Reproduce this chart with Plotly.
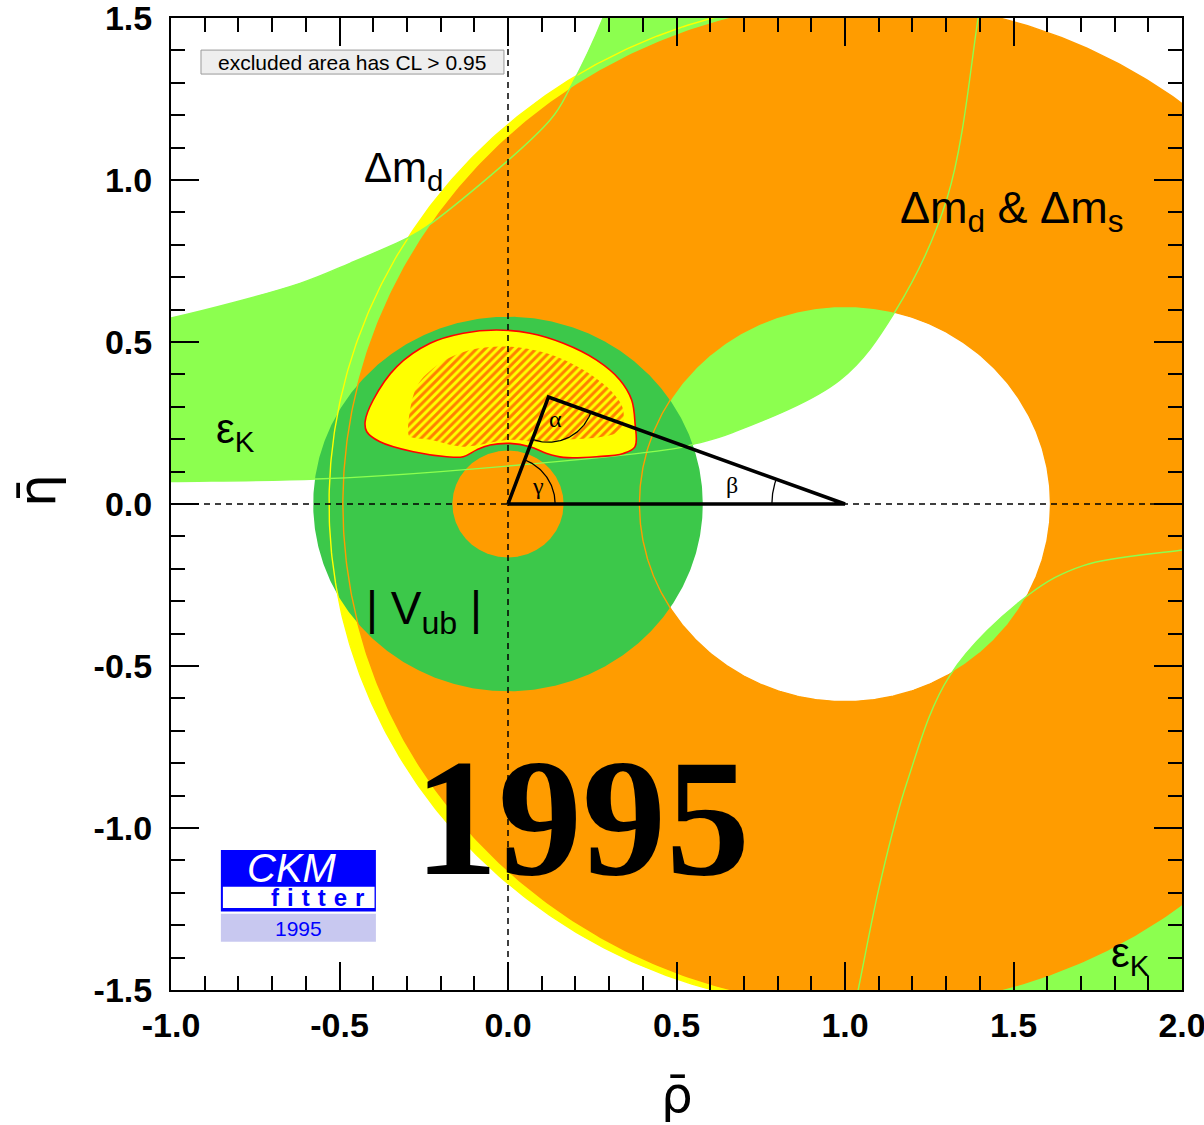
import numpy as np
import plotly.graph_objects as go

# ---------------- values (rho-bar / eta-bar units) ----------------
# Δm_d (yellow) ring, Δm_d & Δm_s (orange) ring, common excluded disc around (1,0)
dmd_center, dmd_radius = 1.027, 1.558
dms_center, dms_radius = 1.062, 1.552
hole_center, hole_radius = 1.0, 0.61
# |Vub| ring around the origin
vub_r_in, vub_r_out = 0.165, 0.578

# εK band, upper branch: lower edge and upper edge (points beyond the frame close the band)
ek_up_lo_rho = [-1.15, -1.00, -0.57, -0.20, 0.49, 0.56, 0.66, 0.985, 1.148, 1.303, 1.395, 1.44, 1.60]
ek_up_lo_eta = [0.066, 0.069, 0.077, 0.100, 0.170, 0.187, 0.218, 0.383, 0.593, 0.944, 1.50, 1.85, 2.20]
ek_up_hi_rho = [-1.15, -1.00, -0.617, -0.469, -0.301, -0.241, 0.125, 0.184, 0.282, 0.33, 0.40]
ek_up_hi_eta = [0.545, 0.574, 0.681, 0.743, 0.820, 0.856, 1.185, 1.284, 1.50, 1.65, 1.95]
ek_up_close_rho = [0.90, -1.40]
ek_up_close_eta = [2.40, 0.30]
# εK band, lower branch: inner edge (band extends outward beyond the frame)
ek_lo_rho = [2.15, 2.00, 1.707, 1.544, 1.312, 1.183, 1.104, 1.04, 0.99]
ek_lo_eta = [-0.121, -0.142, -0.19, -0.281, -0.528, -0.862, -1.171, -1.495, -1.75]
ek_lo_close_rho = [1.20, 2.40, 2.40]
ek_lo_close_eta = [-2.00, -2.00, -0.10]

# combined fit: outer (CL contour) and hatched inner region
fit_rho = [-0.424, -0.400, -0.330, -0.231, -0.133, -0.034, 0.065, 0.164, 0.263, 0.332, 0.367, 0.377,
           0.377, 0.342, 0.263, 0.164, 0.115, 0.065, 0.006, -0.053, -0.093, -0.133, -0.182, -0.281,
           -0.380, -0.419, -0.424]
fit_eta = [0.254, 0.321, 0.424, 0.496, 0.527, 0.537, 0.527, 0.496, 0.444, 0.383, 0.321, 0.249,
           0.177, 0.156, 0.146, 0.144, 0.156, 0.177, 0.187, 0.182, 0.167, 0.146, 0.146, 0.161,
           0.192, 0.223, 0.254]
hatch_rho = [-0.296, -0.271, -0.202, -0.113, -0.004, 0.115, 0.223, 0.312, 0.342, 0.332, 0.283, 0.164,
             0.085, 0.006, -0.133, -0.231, -0.291, -0.296]
hatch_eta = [0.218, 0.362, 0.434, 0.475, 0.486, 0.465, 0.414, 0.342, 0.290, 0.228, 0.208, 0.198,
             0.192, 0.198, 0.177, 0.198, 0.208, 0.218]

# unitarity triangle
tri_rho = [0.0, 0.12, 1.0, 0.0]
tri_eta = [0.0, 0.33, 0.0, 0.0]

# axes
x_ticks = [-1.0, -0.5, 0.0, 0.5, 1.0, 1.5, 2.0]
x_ticktext = ["-1.0", "-0.5", "0.0", "0.5", "1.0", "1.5", "2.0"]
y_ticks = [-1.5, -1.0, -0.5, 0.0, 0.5, 1.0, 1.5]
y_ticktext = ["-1.5", "-1.0", "-0.5", "0.0", "0.5", "1.0", "1.5"]

# colours
C_YELLOW = "#ffff00"
C_LGREEN = "#8cff4f"
C_ORANGE = "#ff9c00"
C_DGREEN = "#3cc84a"
C_RED = "#ff0000"

# ---------------- helpers ----------------
t = np.linspace(0, 2 * np.pi, 721)


def circle(cx, cy, r):
    return cx + r * np.cos(t), cy + r * np.sin(t)


def ring(cx, r_out, hx, r_in):
    xo, yo = circle(cx, 0.0, r_out)
    xi, yi = circle(hx, 0.0, r_in)
    return np.concatenate([xo, xi[::-1]]), np.concatenate([yo, yi[::-1]])


fig = go.Figure()


def add_fill(x, y, color, shape="linear"):
    fig.add_trace(go.Scatter(x=list(x), y=list(y), mode="lines", fill="toself", fillcolor=color,
                             line=dict(width=0, color=color, shape=shape, smoothing=1.0),
                             hoverinfo="skip", showlegend=False))


def add_line(x, y, color, width=1.4, shape="linear", dash=None):
    fig.add_trace(go.Scatter(x=list(x), y=list(y), mode="lines", connectgaps=False,
                             line=dict(width=width, color=color, shape=shape, smoothing=1.0, dash=dash),
                             hoverinfo="skip", showlegend=False))


# 1. Δm_d ring (yellow)
add_fill(*ring(dmd_center, dmd_radius, hole_center, hole_radius), C_YELLOW)

# 2. εK band (light green)
add_fill(ek_up_lo_rho + ek_up_close_rho[:1] + ek_up_hi_rho[::-1] + ek_up_close_rho[1:],
         ek_up_lo_eta + ek_up_close_eta[:1] + ek_up_hi_eta[::-1] + ek_up_close_eta[1:],
         C_LGREEN, shape="spline")
add_fill(ek_lo_rho + ek_lo_close_rho, ek_lo_eta + ek_lo_close_eta, C_LGREEN, shape="spline")

# 3. Δm_d & Δm_s ring (orange)
add_fill(*ring(dms_center, dms_radius, hole_center, hole_radius), C_ORANGE)

# 4. |Vub| ring (dark green)
add_fill(*ring(0.0, vub_r_out, 0.0, vub_r_in), C_DGREEN)

# 5. contour lines of the individual constraints
yx, yy = circle(dmd_center, 0.0, dmd_radius)
inside_orange = np.hypot(yx - dms_center, yy) < dms_radius + 0.004
yx = np.where(inside_orange, np.nan, yx)
yy = np.where(inside_orange, np.nan, yy)
add_line([None if np.isnan(v) else float(v) for v in yx],
         [None if np.isnan(v) else float(v) for v in yy], C_YELLOW)
add_line(*circle(dms_center, 0.0, dms_radius), C_ORANGE)
add_line(*circle(hole_center, 0.0, hole_radius), C_ORANGE)
add_line(ek_up_lo_rho, ek_up_lo_eta, C_LGREEN, shape="spline")
add_line(ek_up_hi_rho, ek_up_hi_eta, C_LGREEN, shape="spline")
add_line(ek_lo_rho, ek_lo_eta, C_LGREEN, shape="spline")

# 6. combined fit
fig.add_trace(go.Scatter(x=fit_rho, y=fit_eta, mode="lines", fill="toself", fillcolor=C_YELLOW,
                         line=dict(width=1.6, color=C_RED, shape="spline", smoothing=1.0),
                         hoverinfo="skip", showlegend=False))
fig.add_trace(go.Scatter(x=hatch_rho, y=hatch_eta, mode="lines", fill="toself",
                         fillpattern=dict(shape="/", fgcolor=C_RED, bgcolor=C_YELLOW, size=6, solidity=0.5),
                         line=dict(width=0, color=C_RED, shape="spline", smoothing=1.0),
                         hoverinfo="skip", showlegend=False))

# 7. dashed axes through the origin
add_line([0.0, 0.0], [-1.5, 1.5], "black", width=1.5, dash="6px,5px")
add_line([-1.0, 2.0], [0.0, 0.0], "black", width=1.5, dash="6px,5px")

# 8. triangle and angle arcs
add_line(tri_rho, tri_eta, "black", width=3.5)
ang_apex_0 = np.arctan2(tri_eta[0] - tri_eta[1], tri_rho[0] - tri_rho[1])
ang_apex_1 = np.arctan2(tri_eta[2] - tri_eta[1], tri_rho[2] - tri_rho[1])
ang_gamma = np.arctan2(tri_eta[1], tri_rho[1])
ang_beta = np.arctan2(tri_eta[1] - tri_eta[2], tri_rho[1] - tri_rho[2])
sy = 337.0 / 324.0


def arc(cx, cy, r, a0, a1):
    a = np.linspace(a0, a1, 60)
    return cx + r * np.cos(a), cy + r * sy * np.sin(a)


add_line(*arc(tri_rho[0], tri_eta[0], 0.14, 0.0, ang_gamma), "black", width=1.3)
add_line(*arc(tri_rho[1], tri_eta[1], 0.134, ang_apex_0, ang_apex_1), "black", width=1.3)
add_line(*arc(tri_rho[2], tri_eta[2], 0.217, np.pi, ang_beta), "black", width=1.3)

# ---------------- text ----------------
SANS = "Liberation Sans"
SERIF = "Liberation Serif"


def label(x, y, text, size, family=SANS, color="black", xanchor="left", **kw):
    fig.add_annotation(x=x, y=y, xref="x", yref="y", text=text, showarrow=False,
                       font=dict(family=family, size=size, color=color),
                       xanchor=xanchor, yanchor="middle", **kw)


label(-0.432, 1.03, "Δm<sub>d</sub>", 42)
label(1.158, 0.905, "Δm<sub>d</sub> &amp; Δm<sub>s</sub>", 45)
label(-0.872, 0.225, "ε<sub>K</sub>", 42)
label(1.783, -1.395, "ε<sub>K</sub>", 42)
label(-0.428, -0.333, "| V<sub>ub</sub> |", 46)
label(0.22, -0.965, "<b>1995</b>", 168, family=SERIF, xanchor="center")
label(0.142, 0.262, "α", 24, family=SERIF, xanchor="center")
label(0.088, 0.055, "γ", 24, family=SERIF, xanchor="center")
label(0.666, 0.058, "β", 24, family=SERIF, xanchor="center")

# legend box
fig.add_shape(type="rect", xref="x", yref="y", x0=-0.911, x1=-0.012, y0=1.327, y1=1.401,
              fillcolor="#eeeeee", line=dict(color="#9a9a9a", width=1), layer="above")
label(-0.4615, 1.364, "excluded area has CL > 0.95", 21, xanchor="center")

# CKMfitter logo
fig.add_shape(type="rect", xref="x", yref="y", x0=-0.852, x1=-0.392, y0=-1.258, y1=-1.068,
              fillcolor="#0000ff", line=dict(width=0), layer="above")
fig.add_shape(type="rect", xref="x", yref="y", x0=-0.846, x1=-0.396, y0=-1.247, y1=-1.181,
              fillcolor="white", line=dict(width=0), layer="above")
fig.add_shape(type="rect", xref="x", yref="y", x0=-0.852, x1=-0.392, y0=-1.351, y1=-1.265,
              fillcolor="#c8c8f0", line=dict(width=0), layer="above")
label(-0.64, -1.122, "<i>CKM</i>", 40, color="white", xanchor="center")
label(-0.565, -1.216, "<b>f\u2004i\u2004t\u2004t\u2004e\u2004r</b>", 24, color="#0000ff", xanchor="center")
label(-0.623, -1.309, "1995", 21, color="#0000ff", xanchor="center")

# axis titles
fig.add_annotation(x=0.5, y=-0.108, xref="paper", yref="paper", text="\u03c1\u0304", showarrow=False,
                   font=dict(family="DejaVu Sans", size=50, color="black"), xanchor="center", yanchor="middle")
fig.add_annotation(x=-0.132, y=0.514, xref="paper", yref="paper", text="\u03b7\u0304", showarrow=False,
                   textangle=-90, font=dict(family="DejaVu Sans", size=52, color="black"),
                   xanchor="center", yanchor="middle")

# ---------------- axes / layout ----------------
axis_common = dict(showgrid=False, zeroline=False, showline=True, linecolor="black", linewidth=2,
                   mirror="allticks", ticks="inside", ticklen=28, tickwidth=2, tickcolor="black",
                   tickmode="array", ticklabeloverflow="allow", automargin=False,
                   tickfont=dict(family=SANS, size=34, color="black", weight="bold"))

fig.update_xaxes(range=[-1.0, 2.0], tickvals=x_ticks, ticktext=x_ticktext, ticklabelstandoff=4,
                 minor=dict(dtick=0.1, tick0=0.0, ticks="inside", ticklen=14, tickwidth=1.5,
                            tickcolor="black", showgrid=False),
                 **axis_common)
fig.update_yaxes(range=[-1.5, 1.5], tickvals=y_ticks, ticktext=y_ticktext, ticklabelstandoff=10,
                 minor=dict(dtick=0.1, tick0=0.0, ticks="inside", ticklen=14, tickwidth=1.5,
                            tickcolor="black", showgrid=False),
                 **axis_common)

fig.update_layout(width=1204, height=1125, margin=dict(l=171, r=22, t=18, b=135),
                  paper_bgcolor="white", plot_bgcolor="white", showlegend=False)

fig.write_html("out.html")
